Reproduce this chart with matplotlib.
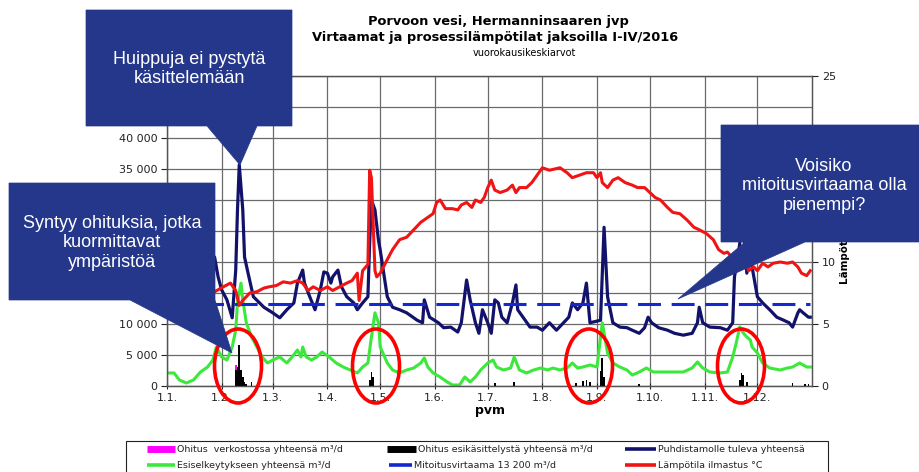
import matplotlib
matplotlib.use('Agg')
import matplotlib.pyplot as plt
from matplotlib.patches import Polygon, Ellipse, Rectangle
from matplotlib.lines import Line2D
from matplotlib.ticker import FuncFormatter, MultipleLocator

# ---------------- data (day of year 2016, 0 = 1.1.) ----------------
month_days = [0, 31, 60, 91, 121, 152, 182, 213, 244, 274, 305, 335]
month_labels = ['1.1.', '1.2.', '1.3.', '1.4.', '1.5.', '1.6.', '1.7.', '1.8.',
                '1.9.', '1.10.', '1.11.', '1.12.']

# flow tick labels visible in the picture (others are covered by the callout boxes)
flow_ticks_shown = [0, 5000, 10000, 35000, 40000]
temp_ticks_shown = [0, 5, 10, 25]

# Puhdistamolle tuleva yhteensä (m3/d)
inflow_days = [0, 3, 6, 9, 12, 15, 18, 21, 24, 27, 29, 31, 34, 37, 39, 40, 41, 43, 44, 46, 49,
               55, 60, 64, 68, 72, 74, 77, 78, 81, 84, 87, 89, 91, 93, 94, 97, 99, 102, 106,
               108, 111, 114, 115, 116, 118, 120, 121, 125, 128, 132, 136, 142, 145, 146, 149,
               154, 157, 161, 165, 167, 170, 172, 175, 177, 179, 182, 184, 186, 188, 190, 193,
               196, 198, 199, 202, 206, 210, 213, 217, 221, 225, 228, 230, 233, 236, 238, 240,
               246, 248, 250, 253, 257, 261, 264, 268, 271, 273, 275, 279, 284, 288, 293, 298,
               301, 302, 304, 308, 314, 318, 321, 322, 324, 326, 328, 329, 331, 333, 335, 338,
               342, 346, 350, 353, 355, 358, 359, 361, 364, 365]
inflow = [12500, 14000, 13000, 15000, 13500, 14500, 12500, 13500, 9400, 20800, 17600, 15500,
          13900, 11000, 18700, 28400, 35700, 28400, 20800, 18200, 14400,
          12700, 11800, 11000, 12300, 13400, 16600, 18700, 16600, 14400, 12300, 15500, 18400,
          18200, 16600, 17600, 18700, 16000, 14400, 13400,
          12300, 13400, 14400, 23100, 30000, 28400, 23500, 21900, 14400, 12700, 12300, 11800,
          10600, 10200, 13900, 11100,
          10200, 9400, 9500, 8700, 10200, 17100, 13900, 10200, 8500, 12300, 10200, 8500,
          13900, 13400, 11100, 10200,
          13400, 16300, 12300, 11100, 9500, 9500, 9000, 10200, 9000, 10200, 11100, 13400,
          12300, 13400, 16600, 10200,
          10600, 25600, 14400, 10200, 9500, 9400, 9000, 8500, 9400, 11100, 10200, 9400, 9000,
          8500, 8200, 8500,
          10200, 12700, 10200, 9500, 9400, 9000, 10200, 17600, 20800, 25200, 22700, 18200,
          20800, 17600, 14400, 13400,
          12300, 11100, 10600, 10200, 9500, 11800, 12300, 11800, 11100, 11100]

# Esiselkeytykseen yhteensä (m3/d)
presettle_days = [0, 4, 7, 11, 15, 19, 23, 26, 28, 31, 34, 37, 39, 40, 42, 43, 45, 48, 51, 54,
                  57, 60, 64, 68, 71, 74, 76, 77, 79, 82, 85, 88, 92, 96, 100, 104, 108, 111,
                  114, 116, 118, 120, 121, 125, 128, 132, 136, 140, 144, 146, 148, 151, 155,
                  159, 162, 166, 169, 172, 175, 178, 182, 185, 187, 191, 195, 197, 200, 204,
                  208, 212, 216, 219, 223, 227, 230, 233, 236, 240, 244, 247, 250, 253, 257,
                  261, 264, 268, 272, 276, 281, 287, 293, 298, 301, 304, 308, 314, 318, 321,
                  323, 325, 327, 329, 331, 332, 335, 338, 342, 348, 352, 355, 359, 363, 365]
presettle = [2100, 2100, 970, 480, 970, 2260, 3060, 4190, 6290, 4680, 4190, 6290, 9030, 13400,
             16600, 13900, 10200, 7900, 6290, 4680,
             3710, 4190, 4680, 3710, 4680, 5810, 4680, 6290, 4680, 4190, 4680, 5480, 4680,
             3710, 3060, 2580, 2100, 3060,
             3710, 7900, 11800, 10200, 6290, 3710, 2580, 2100, 2580, 2900, 3710, 4520, 3060,
             2100, 1450,
             650, 160, 160, 1450, 650, 1450, 2580, 3710, 4190, 3060, 2580, 2900, 4680, 2580,
             2100,
             2580, 2900, 2580, 2900, 2580, 2900, 3710, 2900, 3060, 3390, 3060, 10200, 5320,
             3710, 3060,
             2580, 1770, 2260, 2900, 2260, 2260, 2260, 2260, 2900, 3870, 2900, 2260, 2100,
             2260, 4680,
             6940, 9520, 8550, 7900, 7420, 6290, 5320, 3710, 2900, 2580, 2900, 3060, 3710,
             3060, 3060]

# Ohitus esikäsittelystä yhteensä (m3/d)
bypass_pre_days = [39, 40, 41, 42, 43, 44, 45, 48, 115, 116, 117, 186, 197, 232, 236, 238,
                   240, 246, 247, 248, 268, 325, 326, 327, 329, 355, 362, 364]
bypass_pre = [2600, 3100, 6600, 2600, 1500, 650, 400, 650, 1000, 2300, 1500, 500, 650, 500,
              800, 1000, 600, 2500, 4500, 1500, 300, 1000, 2100, 1700, 600, 500, 400, 400]

# Ohitus verkostossa yhteensä (m3/d)
bypass_net_days = [39]
bypass_net = [3400]

# Mitoitusvirtaama
design_flow = 13200
design_days = [0, 365]

# Lämpötila ilmastus (°C)
temp_days = [0, 8, 16, 24, 27, 32, 36, 39, 41, 43, 47, 51, 55, 58, 62, 66, 70, 74, 77, 80, 83,
             87, 91, 94, 98, 102, 105, 108, 109, 111, 114, 115, 116, 118, 119, 121, 125, 128,
             132, 136, 140, 144, 148, 151, 153, 155, 158, 162, 165, 167, 170, 173, 175, 178,
             180, 182, 184, 186, 189, 193, 196, 198, 200, 204, 207, 210, 213, 217, 223, 227,
             230, 234, 238, 242, 244, 246, 247, 250, 253, 256, 260, 264, 267, 271, 274, 277,
             280, 284, 287, 291, 295, 299, 302, 306, 310, 313, 316, 318, 321, 324, 327, 330,
             333, 335, 338, 341, 344, 348, 352, 355, 358, 360, 363, 365]
temp = [8.0, 7.8, 8.2, 7.8, 7.6, 8.0, 8.3, 7.7, 6.5, 6.9, 7.5, 7.6, 7.9, 8.0, 8.1, 8.4, 8.3,
        8.5, 8.3, 7.7, 8.0,
        7.7, 8.0, 7.7, 8.0, 8.3, 8.5, 9.1, 6.9, 9.3, 9.8, 17.4, 16.8, 9.3, 8.8, 9.1, 10.2,
        11.0,
        11.8, 12.0, 12.6, 13.2, 13.6, 13.9, 14.8, 15.0, 14.3, 14.3, 14.2, 14.6, 14.8, 14.4,
        15.0, 14.8,
        15.2, 16.0, 16.6, 15.8, 15.6, 15.8, 16.2, 15.6, 16.0, 16.0, 16.4, 17.0, 17.6, 17.4,
        17.6, 17.2,
        16.8, 17.0, 17.2, 17.2, 16.8, 17.2, 16.4, 16.0, 16.6, 16.8, 16.4, 16.2, 16.0, 16.0,
        15.6, 15.2,
        15.0, 14.4, 14.0, 13.9, 13.4, 12.8, 12.6, 12.3, 11.8, 11.0, 10.7, 10.8, 10.3, 10.0,
        10.4, 9.3,
        9.6, 9.3, 9.9, 9.6, 9.9, 10.0, 9.9, 10.0, 9.6, 9.1, 8.9, 9.3]

legend_labels = ['Ohitus  verkostossa yhteensä m³/d', 'Ohitus esikäsittelystä yhteensä m³/d',
                 'Puhdistamolle tuleva yhteensä', 'Esiselkeytykseen yhteensä m³/d',
                 'Mitoitusvirtaama 13 200 m³/d', 'Lämpötila ilmastus °C']

# ---------------- styles ----------------
C_NAVY = '#12126B'
C_GREEN = '#3BE83B'
C_BLUE = '#1428D2'
C_RED = '#F01414'
C_MAG = '#FF00FF'
C_BOX = '#25378A'

W, H = 919, 472
fig = plt.figure(figsize=(W / 100, H / 100), dpi=100)
fig.patch.set_facecolor('white')


def fx(px):
    return px / W


def fy(py):
    return 1 - py / H


ax = fig.add_axes([fx(167), fy(386), (812 - 167) / W, (386 - 76) / H])
ax2 = ax.twinx()

ax.set_xlim(0, 366)
ax.set_ylim(0, 50000)
ax2.set_ylim(0, 25)

ax.set_xticks(month_days)
ax.set_xticklabels(month_labels)
ax.yaxis.set_major_locator(MultipleLocator(5000))
ax.yaxis.set_major_formatter(FuncFormatter(
    lambda v, p: f'{int(v):,}'.replace(',', ' ') if int(round(v)) in flow_ticks_shown else ''))
ax2.yaxis.set_major_locator(MultipleLocator(5))
ax2.yaxis.set_major_formatter(FuncFormatter(
    lambda v, p: f'{int(v)}' if int(round(v)) in temp_ticks_shown else ''))

ax.grid(True, color='#6A6A6A', linewidth=0.9)
ax.set_axisbelow(True)

for a in (ax, ax2):
    for s in a.spines.values():
        s.set_color('#555555')
        s.set_linewidth(0.9)
ax.tick_params(axis='y', labelsize=8, length=4, width=0.8, pad=3, colors='#222222')
ax.tick_params(axis='x', labelsize=8, length=4, width=0.8, pad=3, direction='inout',
               colors='#222222')
ax2.tick_params(axis='y', labelsize=8, length=4, width=0.8, pad=3, colors='#222222')

ax.bar(bypass_net_days, bypass_net, width=1.0, color=C_MAG, zorder=3)
ax.bar(bypass_pre_days, bypass_pre, width=1.0, color='black', zorder=4)
ax.plot(presettle_days, presettle, color=C_GREEN, lw=2.2, zorder=2)
ax.plot(inflow_days, inflow, color=C_NAVY, lw=2.3, zorder=3)
ax.plot(design_days, [design_flow] * len(design_days), color=C_BLUE, lw=2.2,
        dashes=(7.5, 3.5), zorder=3)
ax2.plot(temp_days, temp, color=C_RED, lw=2.2, zorder=3)

ax.set_xlabel('pvm', fontsize=9, fontweight='bold', labelpad=1)
# right axis title, its upper part lies under the callout box
fig.text(fx(845), fy(284), 'Lämpötila °C', rotation=90, ha='center', va='bottom',
         fontsize=7.4, fontweight='bold', zorder=1)

# ---------------- titles ----------------
fig.text(fx(498), fy(22), 'Porvoon vesi, Hermanninsaaren jvp', ha='center', va='center',
         fontsize=9.4, fontweight='bold')
fig.text(fx(495), fy(38), 'Virtaamat ja prosessilämpötilat jaksoilla I-IV/2016', ha='center',
         va='center', fontsize=9.4, fontweight='bold')
fig.text(fx(524), fy(53), 'vuorokausikeskiarvot', ha='center', va='center', fontsize=7.0)

# ---------------- legend (manual, box cut by figure bottom) ----------------
fig.add_artist(Rectangle((fx(126), fy(482)), (828 - 126) / W, (482 - 441) / H,
                         transform=fig.transFigure, fill=False, edgecolor='#222222', lw=0.8))
row1, row2 = 449, 465
leg = [('patch', C_MAG, 147, 175, row1), ('patch', 'black', 387, 416, row1),
       ('line', C_NAVY, 625, 656, row1), ('line', C_GREEN, 147, 175, row2),
       ('line', C_BLUE, 389, 412, row2), ('line', C_RED, 625, 656, row2)]
for (kind, col, x0, x1, yy), lab in zip(leg, legend_labels):
    lw = 5 if kind == 'patch' else 2.6
    fig.add_artist(Line2D([fx(x0), fx(x1)], [fy(yy), fy(yy)], transform=fig.transFigure,
                          color=col, lw=lw, solid_capstyle='butt'))
    fig.text(fx(x1 + 2), fy(yy), lab, fontsize=6.8, va='center', ha='left', color='#222222')

# ---------------- red ellipses ----------------
for cx, cy in [(238, 366), (376, 366), (589, 366), (741, 366)]:
    fig.add_artist(Ellipse((fx(cx), fy(cy)), 47 / W, 74 / H, transform=fig.transFigure,
                           fill=False, edgecolor='#FF0000', lw=2.6, zorder=6))

# ---------------- callouts ----------------
callouts = [
    ([(86, 10), (292, 10), (292, 126), (257, 126), (240, 165), (207, 126), (86, 126)],
     (189, 69), 'Huippuja ei pystytä\nkäsittelemään'),
    ([(9, 183), (215, 183), (215, 300), (232, 353), (130, 300), (9, 300)],
     (112, 243), 'Syntyy ohituksia, jotka\nkuormittavat\nympäristöä'),
    ([(721, 125), (919, 125), (919, 242), (805, 242), (678, 299), (745, 242), (721, 242)],
     (824, 186), 'Voisiko\nmitoitusvirtaama olla\npienempi?'),
]
for pts, (tx, ty), txt in callouts:
    fig.add_artist(Polygon([(fx(x), fy(y)) for x, y in pts], closed=True,
                           transform=fig.transFigure, facecolor=C_BOX, edgecolor=C_BOX,
                           lw=0.5, zorder=7))
    fig.text(fx(tx), fy(ty), txt, ha='center', va='center', color='white', fontsize=13,
             family='Liberation Sans', linespacing=1.2, zorder=8)

fig.savefig('out.png', dpi=100)
